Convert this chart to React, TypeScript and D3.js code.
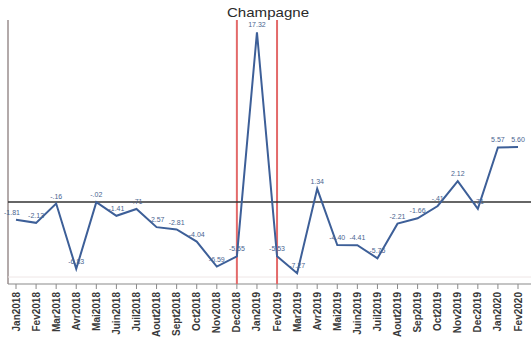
import React from "react";
import * as d3 from "d3";

const months = [
  "Jan2018", "Fev2018", "Mar2018", "Avr2018", "Mai2018", "Juin2018", "Juil2018",
  "Aout2018", "Sept2018", "Oct2018", "Nov2018", "Dec2018", "Jan2019", "Fev2019",
  "Mar2019", "Avr2019", "Mai2019", "Juin2019", "Juil2019", "Aout2019", "Sep2019",
  "Oct2019", "Nov2019", "Dec2019", "Jan2020", "Fev2020",
];
const values = [
  -1.81, -2.13, -0.16, -6.83, -0.02, -1.41, -0.71, -2.57, -2.81, -4.04, -6.59, -5.55,
  17.32, -5.53, -7.27, 1.34, -4.4, -4.41, -5.75, -2.21, -1.66, -0.41, 2.12, -0.71,
  5.57, 5.6,
];
const markerMonths = ["Dec2018", "Fev2019"];
const title = "Champagne";

const W = 531;
const H = 338;

function fmt(v: number) {
  const s = Math.abs(v).toFixed(2).replace(/^0\./, ".");
  return (v < 0 ? "-" : "") + s;
}

export default function App() {
  const x = d3.scalePoint<string>().domain(months).range([16, 518]);
  const y = d3.scaleLinear().domain([-8.37, 18.57]).range([284, 20]);
  const data = months.map((m, i) => ({ m, v: values[i] }));
  const line = d3
    .line<{ m: string; v: number }>()
    .x((d) => x(d.m) as number)
    .y((d) => y(d.v));

  return (
    <svg
      width={W}
      height={H}
      style={{ position: "absolute", left: 0, top: 0, background: "#fff" }}
      fontFamily="Liberation Sans, Arial, sans-serif"
    >
      <text
        x={268}
        y={17}
        textAnchor="middle"
        fontSize={13}
        fill="#2a2a2a"
        textLength={82}
        lengthAdjust="spacingAndGlyphs"
      >
        {title}
      </text>
      {/* left axis */}
      <line x1={8} x2={8} y1={20} y2={284} stroke="#b3aaaa" strokeWidth={2} />
      {/* faint bottom border */}
      <line x1={8} x2={531} y1={277} y2={277} stroke="#eee6e6" strokeWidth={1} />
      {/* bottom axis */}
      <line x1={8} x2={531} y1={284} y2={284} stroke="#8a8a8a" strokeWidth={1.2} />
      {months.map((m) => (
        <g key={m}>
          <line
            x1={x(m) as number}
            x2={x(m) as number}
            y1={284}
            y2={289}
            stroke="#8a8a8a"
            strokeWidth={1}
          />
          <text
            transform={`translate(${(x(m) as number) + 3.5},292) rotate(-90)`}
            textAnchor="end"
            fontSize={10}
            fontWeight="bold"
            fill="#3a3a3a"
          >
            {m}
          </text>
        </g>
      ))}
      {/* red markers */}
      {markerMonths.map((m) => (
        <line
          key={m}
          x1={x(m) as number}
          x2={x(m) as number}
          y1={20}
          y2={284}
          stroke="#e36a6a"
          strokeWidth={2}
        />
      ))}
      {/* zero line */}
      <line x1={8} x2={531} y1={y(0)} y2={y(0)} stroke="#333" strokeWidth={1.5} />
      <path d={line(data) || ""} fill="none" stroke="#3d5f98" strokeWidth={2} />
      {data.map((d, i) => (
        <text
          key={i}
          x={(x(d.m) as number) - (i === 0 ? 4 : 0)}
          y={y(d.v) - 5}
          textAnchor="middle"
          fontSize={7}
          fill="#4a6590"
        >
          {fmt(d.v)}
        </text>
      ))}
    </svg>
  );
}
